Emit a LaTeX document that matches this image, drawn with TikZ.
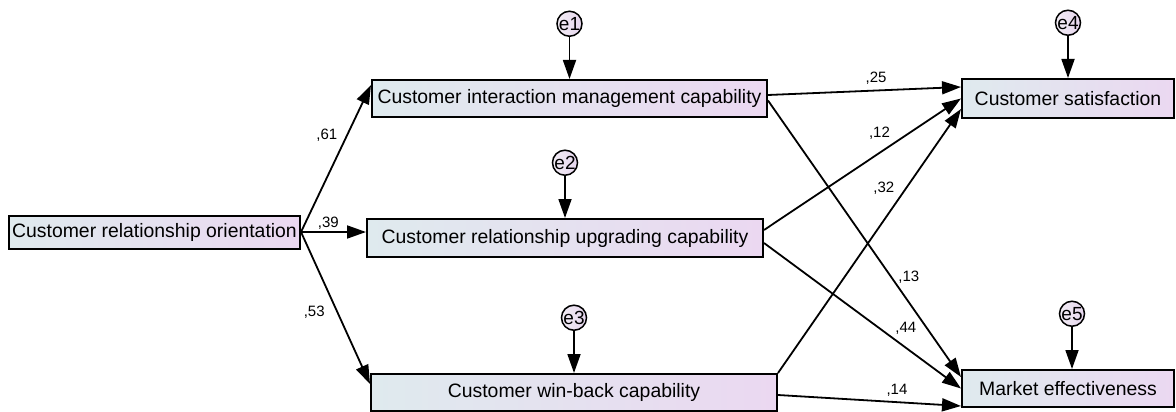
\documentclass[tikz,border=0pt]{standalone}
\usepackage{fontspec}
\setmainfont{Liberation Sans}
\usepackage{tikz}
\usetikzlibrary{positioning,arrows.meta}

\definecolor{boxleft}{HTML}{DFEAEE}
\definecolor{boxright}{HTML}{EBD8F1}
\definecolor{errleft}{HTML}{F2ECF4}
\definecolor{errright}{HTML}{E6D6EE}

\begin{document}
\begin{tikzpicture}[x=1pt, y=-1pt, ->, >={Triangle[length=19pt,width=13pt]}, line width=1.8pt, node distance=42pt,
		var/.style={draw, line width=2pt, left color=boxleft, right color=boxright, inner sep=0pt, minimum height=37pt, font=\fontsize{19.4}{22}\selectfont},
		err/.style={draw, circle, line width=1.5pt, left color=errleft, right color=errright, inner sep=0pt, minimum size=25pt, font=\fontsize{19}{20}\selectfont},
		coef/.style={inner sep=1pt, font=\fontsize{15}{17}\selectfont}]
			\useasboundingbox (0,0) rectangle (1176,412);

			\node[var, minimum width=291pt, minimum height=33pt] (cro) at (154.5,232) {Customer relationship orientation};
			\node[var, minimum width=395pt] (cim) at (569.5,98.5) {Customer interaction management capability};
			\node[var, minimum width=396pt, minimum height=38pt] (cru) at (565,238) {Customer relationship upgrading capability};
			\node[var, minimum width=406pt] (cwb) at (574,392.5) {Customer win-back capability};
			\node[var, minimum width=212pt, minimum height=39pt] (cs) at (1068,98.5) {Customer satisfaction};
			\node[var, minimum width=212pt] (me) at (1068,388.5) {Market effectiveness};

			\node[err] (e1) [above=of cim] {e1};
			\node[err] (e2) [above=of cru] {e2};
			\node[err] (e3) [above=of cwb] {e3};
			\node[err] (e4) [above=of cs] {e4};
			\node[err, xshift=4pt] (e5) [above=of me] {e5};

			\path (e1) edge (cim);
			\path (e2) edge (cru);
			\path (e3) edge (cwb);
			\path (e4) edge (cs);
			\path (e5) edge (e5 |- me.north);

			\path (cro.east) edge node[coef, pos=.66, left=8pt] {,61} ([yshift=-6pt]cim.north west);
			\path (cro.east) edge node[coef, pos=.42, above=1pt] {,39} ([yshift=6pt]cru.west);
			\path (cro.east) edge node[coef, pos=.53, left=11pt] {,53} ([yshift=-11pt]cwb.north west);

			\path ([yshift=3.5pt]cim.east) edge node[coef, pos=.56, above=4pt] {,25} ([yshift=-9pt]cs.north west);
			\path ([yshift=-2pt]cim.east) edge node[coef, pos=.64, right=5pt] {,13} ([yshift=-8pt]me.north west);
			\path ([yshift=8pt]cru.east) edge node[coef, pos=.586, above=12pt] {,12} (cs.west);
			\path ([yshift=-5pt]cru.east) edge node[coef, pos=.72, above=11pt] {,44} (me.west);
			\path (cwb.north east) edge node[coef, pos=.70, left=10pt] {,32} ([yshift=10pt]cs.south west);
			\path ([yshift=-2.5pt]cwb.east) edge node[coef, pos=.65, above=4pt] {,14} ([yshift=2pt]me.south west);
		\end{tikzpicture}
\end{document}
